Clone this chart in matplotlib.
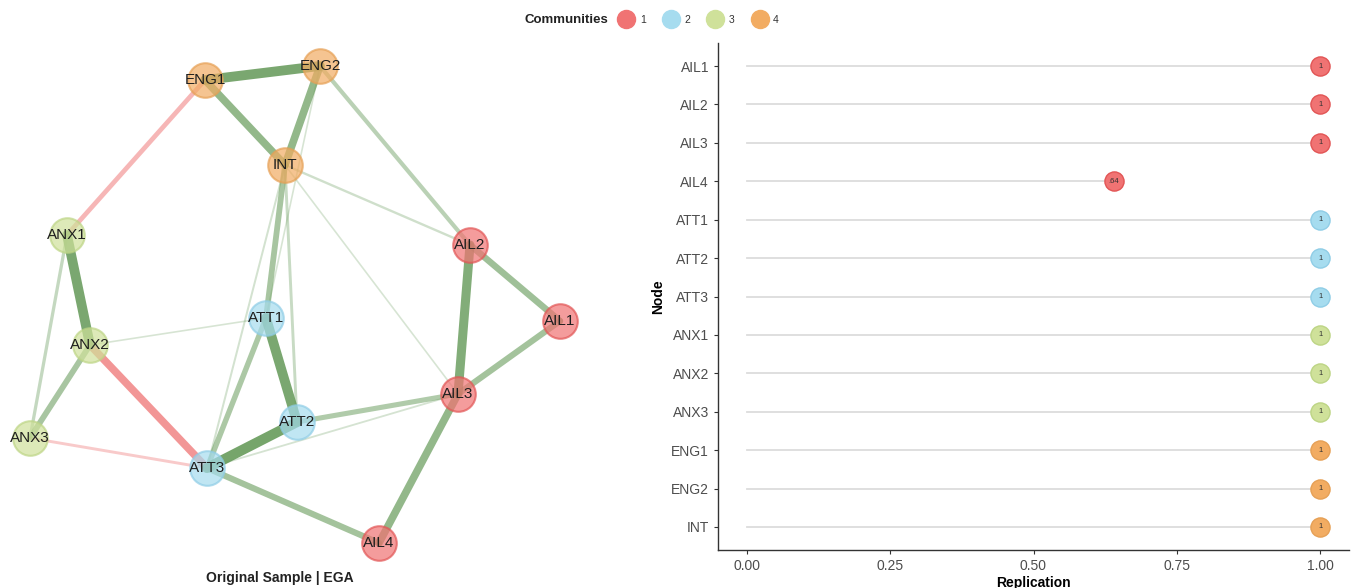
import matplotlib.pyplot as plt
from matplotlib.lines import Line2D

plt.rcParams['font.family'] = ['Liberation Sans', 'DejaVu Sans']

# community colours
comm_colors = {1: "#f07373", 2: "#a6dcef", 3: "#cfe19a", 4: "#f2ac62"}
comm_edges = {1: "#e25555", 2: "#8fcde6", 3: "#bdd585", 4: "#e6a055"}

# network layout (node positions) and memberships
nodes = ["ENG1", "ENG2", "INT", "ANX1", "AIL2", "AIL1", "ATT1",
         "ANX2", "AIL3", "ATT2", "ANX3", "ATT3", "AIL4"]
node_x = [205, 320, 285, 67, 470, 560, 266, 90, 458, 297, 30, 207, 379]
node_y = [80, 66, 165, 235, 245, 321, 318, 345, 394, 422, 438, 468, 543]
node_comm = [4, 4, 4, 3, 1, 1, 2, 3, 1, 2, 3, 2, 1]

# partial correlations between nodes
edges = [
    ("ENG1", "ENG2", 0.48), ("ENG1", "INT", 0.36), ("ENG2", "INT", 0.36),
    ("ENG1", "ANX1", -0.20), ("ENG2", "AIL2", 0.17), ("INT", "ATT1", 0.26),
    ("INT", "ATT2", 0.10), ("INT", "ATT3", 0.05), ("INT", "AIL2", 0.07),
    ("INT", "AIL3", 0.03), ("ENG2", "ATT1", 0.03),
    ("ANX1", "ANX2", 0.48), ("ANX1", "ANX3", 0.12), ("ANX2", "ANX3", 0.26),
    ("ANX2", "ATT3", -0.36), ("ANX2", "ATT1", 0.03), ("ANX3", "ATT3", -0.10),
    ("ATT1", "ATT2", 0.48), ("ATT1", "ATT3", 0.24), ("ATT2", "ATT3", 0.50),
    ("ATT2", "AIL3", 0.22), ("ATT3", "AIL3", 0.04), ("ATT3", "AIL4", 0.28),
    ("AIL2", "AIL3", 0.44), ("AIL2", "AIL1", 0.30), ("AIL1", "AIL3", 0.28),
    ("AIL3", "AIL4", 0.36),
]

# item stability results
stab_nodes = ["AIL1", "AIL2", "AIL3", "AIL4", "ATT1", "ATT2", "ATT3",
              "ANX1", "ANX2", "ANX3", "ENG1", "ENG2", "INT"]
stab_comm = [1, 1, 1, 1, 2, 2, 2, 3, 3, 3, 4, 4, 4]
stab_value = [1.00, 1.00, 1.00, 0.64, 1.00, 1.00, 1.00,
              1.00, 1.00, 1.00, 1.00, 1.00, 1.00]
x_ticks = [0.00, 0.25, 0.50, 0.75, 1.00]

fig = plt.figure(figsize=(13.53, 5.88), dpi=100)

# ---- network panel ----
ax = fig.add_axes([0, 0, 620 / 1353, 1])
ax.set_xlim(0, 620)
ax.set_ylim(588, 0)
ax.axis("off")

pos = {n: (x, y) for n, x, y in zip(nodes, node_x, node_y)}
wmax = max(abs(w) for _, _, w in edges)
for a, b, w in sorted(edges, key=lambda e: abs(e[2])):
    col = "#679b5b" if w > 0 else "#ee6b6b"
    alpha = 0.22 + 0.68 * abs(w) / wmax
    ax.plot([pos[a][0], pos[b][0]], [pos[a][1], pos[b][1]],
            color=col, lw=0.8 + 6.5 * abs(w) / wmax, alpha=alpha,
            solid_capstyle="round", zorder=1)

for n, x, y, c in zip(nodes, node_x, node_y, node_comm):
    ax.scatter(x, y, s=620, color=comm_colors[c], alpha=0.7,
               edgecolors=comm_edges[c], linewidths=1.5, zorder=2)
    ax.text(x, y, n, ha="center", va="center", fontsize=11,
            color="#1e1e1e", zorder=3)

fig.text(280 / 1353, 1 - 578 / 588, "Original Sample | EGA", ha="center",
         va="center", fontsize=10, fontweight="bold", color="#222222")

# ---- stability panel ----
ax2 = fig.add_axes([718 / 1353, 1 - 550 / 588, 631 / 1353, 507 / 588])
ypos = list(range(len(stab_nodes)))
for yi, v, c in zip(ypos, stab_value, stab_comm):
    ax2.plot([0, v], [yi, yi], color="#dcdcdc", lw=1.3, zorder=1)
    ax2.scatter(v, yi, s=190, color=comm_colors[c],
                edgecolors=comm_edges[c], linewidths=1, zorder=2)
    lab = "1" if v == 1 else f"{v:.2f}"[1:]
    ax2.text(v, yi, lab, ha="center", va="center", fontsize=5.5,
             color="#333333", zorder=3)

ax2.set_xlim(-0.05, 1.05)
ax2.set_ylim(len(stab_nodes) - 0.4, -0.6)
ax2.set_yticks(ypos)
ax2.set_yticklabels(stab_nodes)
ax2.set_xticks(x_ticks)
ax2.set_xticklabels([f"{t:.2f}" for t in x_ticks])
ax2.tick_params(labelsize=10, labelcolor="#4d4d4d", color="#333333",
                length=3, width=0.8)
for s in ["top", "right"]:
    ax2.spines[s].set_visible(False)
for s in ["left", "bottom"]:
    ax2.spines[s].set_color("#333333")
    ax2.spines[s].set_linewidth(1)
ax2.set_xlabel("Replication", fontsize=10, fontweight="bold", labelpad=2)
ax2.set_ylabel("Node", fontsize=10, fontweight="bold", labelpad=4)

# ---- legend ----
fig.text(608 / 1353, 1 - 20 / 588, "Communities", ha="right", va="center",
         fontsize=9.5, fontweight="bold", color="#222222")
handles = [Line2D([], [], marker="o", ls="", markersize=13,
                  markerfacecolor=comm_colors[k], markeredgecolor=comm_colors[k])
           for k in comm_colors]
fig.legend(handles, [str(k) for k in comm_colors], loc="center",
           bbox_to_anchor=(699 / 1353, 1 - 20 / 588), ncols=4, frameon=False,
           fontsize=7.5, handletextpad=0.6, columnspacing=1.7,
           handlelength=1.4, labelcolor="#333333")

fig.savefig("out.png", dpi=100)
